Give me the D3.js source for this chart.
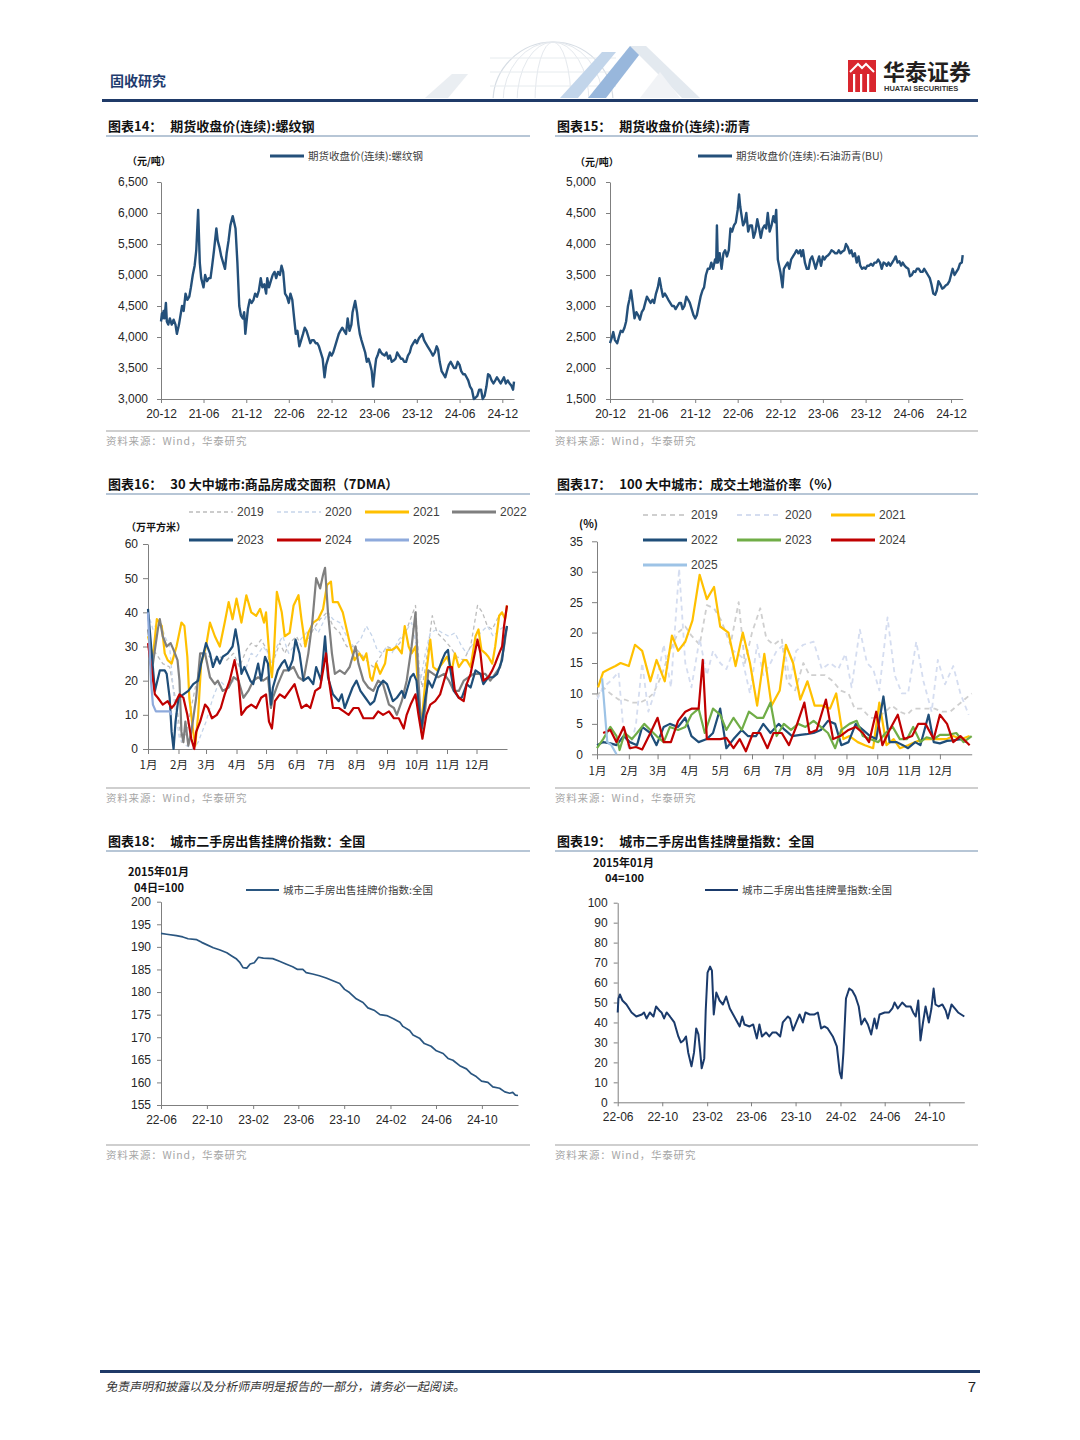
<!DOCTYPE html>
<html>
<head>
<meta charset="utf-8">
<script src="https://cdn.jsdelivr.net/npm/d3@7"></script>
<style>
  body { margin: 0; background: #fff; }
  svg { display: block; }
</style>
</head>
<body>
<script>
// ---------- data ----------

// 图表14 螺纹钢 (元/吨)
const rebar = [
  ["2020-12-01",4250],["2020-12-05",4380],["2020-12-08",4300],["2020-12-12",4420],["2020-12-16",4300],["2020-12-22",4550],
  ["2020-12-26",4250],["2021-01-01",4200],["2021-01-08",4300],["2021-01-16",4200],["2021-01-24",4280],["2021-02-01",4200],
  ["2021-02-07",4050],["2021-02-16",4200],["2021-03-01",4500],["2021-03-08",4420],["2021-03-16",4700],["2021-03-24",4600],
  ["2021-04-01",4650],["2021-04-08",4800],["2021-04-16",5000],["2021-04-24",5150],["2021-05-01",5400],["2021-05-09",6050],
  ["2021-05-16",5200],["2021-05-22",4950],["2021-06-01",4800],["2021-06-08",5000],["2021-06-16",4900],["2021-06-24",4950],
  ["2021-07-01",4950],["2021-07-08",5150],["2021-07-16",5400],["2021-07-26",5750],["2021-08-01",5550],["2021-08-08",5450],
  ["2021-08-16",5300],["2021-08-24",5200],["2021-09-01",5100],["2021-09-08",5350],["2021-09-16",5550],["2021-09-24",5800],
  ["2021-10-04",5950],["2021-10-10",5850],["2021-10-16",5750],["2021-10-24",5200],["2021-11-01",4500],["2021-11-08",4350],
  ["2021-11-16",4300],["2021-11-22",4400],["2021-11-27",4050],["2021-12-01",4200],["2021-12-08",4450],["2021-12-16",4600],
  ["2021-12-24",4550],["2022-01-01",4600],["2022-01-08",4700],["2022-01-16",4650],["2022-01-24",4750],["2022-02-01",4950],
  ["2022-02-08",4800],["2022-02-16",4850],["2022-02-24",4700],["2022-03-01",4950],["2022-03-08",4800],["2022-03-16",4900],
  ["2022-03-24",5000],["2022-04-01",5050],["2022-04-08",4950],["2022-04-16",5050],["2022-04-24",5000],["2022-05-01",5150],
  ["2022-05-08",5050],["2022-05-16",4700],["2022-05-24",4650],["2022-06-01",4550],["2022-06-08",4700],["2022-06-16",4600],
  ["2022-06-24",4300],["2022-07-01",4050],["2022-07-08",4100],["2022-07-16",3850],["2022-07-24",3950],["2022-08-01",4050],
  ["2022-08-08",4150],["2022-08-16",4100],["2022-08-24",4000],["2022-09-01",3900],["2022-09-08",3950],["2022-09-16",3950],
  ["2022-09-24",3900],["2022-10-01",3900],["2022-10-08",3850],["2022-10-16",3750],["2022-10-24",3650],["2022-11-01",3350],
  ["2022-11-08",3550],["2022-11-16",3650],["2022-11-24",3750],["2022-12-01",3700],["2022-12-08",3750],["2022-12-16",3850],
  ["2022-12-24",3950],["2023-01-01",4050],["2023-01-08",4100],["2023-01-16",4150],["2023-01-24",4100],["2023-02-01",4050],
  ["2023-02-08",4300],["2023-02-16",4100],["2023-02-24",4200],["2023-03-01",4400],["2023-03-12",4580],["2023-03-20",4400],
  ["2023-03-26",4200],["2023-04-01",4050],["2023-04-08",3950],["2023-04-16",3850],["2023-04-24",3750],["2023-05-01",3600],
  ["2023-05-08",3650],["2023-05-16",3550],["2023-05-22",3450],["2023-05-28",3200],["2023-06-05",3500],["2023-06-10",3650],
  ["2023-06-16",3700],["2023-06-24",3800],["2023-07-01",3750],["2023-07-08",3720],["2023-07-16",3700],["2023-07-24",3750],
  ["2023-08-01",3650],["2023-08-08",3700],["2023-08-16",3600],["2023-08-24",3620],["2023-09-01",3650],["2023-09-08",3750],
  ["2023-09-16",3700],["2023-09-24",3650],["2023-10-01",3650],["2023-10-08",3600],["2023-10-16",3600],["2023-10-24",3700],
  ["2023-11-01",3750],["2023-11-08",3850],["2023-11-16",3900],["2023-11-24",3950],["2023-12-01",3900],["2023-12-10",3980],
  ["2023-12-24",4050],["2024-01-01",3950],["2024-01-08",3900],["2024-01-16",3850],["2024-01-24",3800],["2024-02-01",3750],
  ["2024-02-08",3700],["2024-02-16",3750],["2024-02-24",3850],["2024-03-01",3800],["2024-03-08",3600],["2024-03-16",3450],
  ["2024-03-24",3400],["2024-04-01",3350],["2024-04-08",3450],["2024-04-16",3550],["2024-04-24",3600],["2024-05-01",3550],
  ["2024-05-08",3500],["2024-05-16",3500],["2024-05-24",3600],["2024-06-01",3550],["2024-06-08",3450],["2024-06-16",3400],
  ["2024-06-24",3400],["2024-07-01",3350],["2024-07-08",3300],["2024-07-16",3200],["2024-07-24",3150],["2024-08-01",3000],
  ["2024-08-08",3020],["2024-08-16",3050],["2024-08-24",3150],["2024-09-01",3150],["2024-09-08",3000],["2024-09-16",3050],
  ["2024-09-24",3200],["2024-10-01",3400],["2024-10-08",3380],["2024-10-16",3300],["2024-10-24",3250],["2024-11-01",3300],
  ["2024-11-08",3350],["2024-11-16",3300],["2024-11-24",3250],["2024-12-01",3300],["2024-12-08",3350],["2024-12-16",3250],
  ["2024-12-24",3300],["2025-01-01",3250],["2025-01-08",3220],["2025-01-16",3150],["2025-01-20",3280]
];

// 图表15 石油沥青 (元/吨)
const asphalt = [
  ["2020-12-01",2400],["2020-12-08",2480],["2020-12-15",2580],["2020-12-22",2450],["2021-01-01",2400],["2021-01-08",2500],
  ["2021-01-16",2600],["2021-01-24",2580],["2021-02-01",2650],["2021-02-08",2750],["2021-02-16",3000],["2021-02-22",3100],
  ["2021-03-01",3250],["2021-03-08",3050],["2021-03-16",2800],["2021-03-24",2900],["2021-04-01",2850],["2021-04-08",2780],
  ["2021-04-16",2900],["2021-04-24",2950],["2021-05-01",3050],["2021-05-08",3150],["2021-05-16",3100],["2021-05-24",3050],
  ["2021-06-01",3100],["2021-06-08",3050],["2021-06-16",3200],["2021-06-24",3300],["2021-07-01",3450],["2021-07-08",3300],
  ["2021-07-16",3150],["2021-07-24",3200],["2021-08-01",3150],["2021-08-08",3100],["2021-08-16",3050],["2021-08-24",3000],
  ["2021-09-01",3000],["2021-09-08",2950],["2021-09-16",3000],["2021-09-24",3050],["2021-10-01",3050],["2021-10-08",2950],
  ["2021-10-16",3000],["2021-10-24",3150],["2021-11-01",3100],["2021-11-08",3050],["2021-11-16",2950],["2021-11-24",2850],
  ["2021-12-01",2800],["2021-12-08",2850],["2021-12-16",3000],["2021-12-24",3150],["2022-01-01",3250],["2022-01-08",3300],
  ["2022-01-16",3500],["2022-01-24",3600],["2022-02-01",3600],["2022-02-08",3700],["2022-02-16",3600],["2022-02-24",3750],
  ["2022-03-01",3700],["2022-03-04",4300],["2022-03-08",3700],["2022-03-16",3850],["2022-03-24",3600],["2022-04-01",3850],
  ["2022-04-08",3900],["2022-04-16",3800],["2022-04-24",3900],["2022-05-01",4250],["2022-05-08",4200],["2022-05-16",4300],
  ["2022-05-24",4350],["2022-06-01",4550],["2022-06-07",4800],["2022-06-12",4600],["2022-06-16",4500],["2022-06-24",4300],
  ["2022-07-01",4350],["2022-07-08",4500],["2022-07-16",4200],["2022-07-24",4300],["2022-08-01",4300],["2022-08-08",4100],
  ["2022-08-16",4200],["2022-08-24",4400],["2022-09-01",4250],["2022-09-08",4100],["2022-09-16",4250],["2022-09-24",4300],
  ["2022-10-01",4250],["2022-10-08",4500],["2022-10-16",4200],["2022-10-24",4300],["2022-11-01",4450],["2022-11-08",4350],
  ["2022-11-13",4550],["2022-11-20",3750],["2022-12-01",3550],["2022-12-10",3300],["2022-12-16",3600],["2022-12-24",3650],
  ["2023-01-01",3700],["2023-01-08",3600],["2023-01-16",3750],["2023-01-24",3800],["2023-02-01",3850],["2023-02-08",3900],
  ["2023-02-16",3850],["2023-02-24",3900],["2023-03-01",3800],["2023-03-08",3900],["2023-03-16",3700],["2023-03-24",3600],
  ["2023-04-01",3600],["2023-04-08",3750],["2023-04-16",3800],["2023-04-24",3700],["2023-05-01",3600],["2023-05-08",3700],
  ["2023-05-16",3800],["2023-05-24",3650],["2023-06-01",3800],["2023-06-08",3750],["2023-06-16",3800],["2023-06-24",3820],
  ["2023-07-01",3850],["2023-07-08",3900],["2023-07-16",3880],["2023-07-24",3850],["2023-08-01",3850],["2023-08-08",3900],
  ["2023-08-16",3850],["2023-08-24",3880],["2023-09-01",3900],["2023-09-08",4000],["2023-09-16",3950],["2023-09-24",3850],
  ["2023-10-01",3900],["2023-10-08",3800],["2023-10-16",3850],["2023-10-24",3700],["2023-11-01",3800],["2023-11-08",3650],
  ["2023-11-16",3600],["2023-11-24",3620],["2023-12-01",3600],["2023-12-08",3650],["2023-12-16",3650],["2023-12-24",3680],
  ["2024-01-01",3650],["2024-01-08",3700],["2024-01-16",3700],["2024-01-24",3750],["2024-02-01",3700],["2024-02-08",3600],
  ["2024-02-16",3700],["2024-02-24",3680],["2024-03-01",3650],["2024-03-08",3700],["2024-03-16",3650],["2024-03-24",3700],
  ["2024-04-01",3750],["2024-04-08",3800],["2024-04-16",3700],["2024-04-24",3720],["2024-05-01",3650],["2024-05-08",3700],
  ["2024-05-16",3650],["2024-05-24",3620],["2024-06-01",3600],["2024-06-08",3480],["2024-06-16",3500],["2024-06-24",3560],
  ["2024-07-01",3550],["2024-07-08",3600],["2024-07-16",3600],["2024-07-24",3550],["2024-08-01",3550],["2024-08-08",3600],
  ["2024-08-16",3550],["2024-08-24",3500],["2024-09-01",3450],["2024-09-08",3350],["2024-09-16",3200],["2024-09-24",3180],
  ["2024-10-01",3250],["2024-10-08",3400],["2024-10-16",3350],["2024-10-24",3280],["2024-11-01",3300],["2024-11-08",3330],
  ["2024-11-16",3350],["2024-11-24",3400],["2024-12-01",3500],["2024-12-08",3600],["2024-12-16",3500],["2024-12-24",3550],
  ["2025-01-01",3600],["2025-01-08",3680],["2025-01-16",3700],["2025-01-20",3820]
];

const futuresTicks = ["2020-12-01","2021-06-01","2021-12-01","2022-06-01","2022-12-01","2023-06-01","2023-12-01","2024-06-01","2024-12-01"];

// month axis (day of year)
const monthLabels = ["1月","2月","3月","4月","5月","6月","7月","8月","9月","10月","11月","12月"];
const monthStartDays = [0,31,59,90,120,151,181,212,243,273,304,334];

// 图表16 30大中城市商品房成交面积 7DMA (万平方米), [day of year, value]
const area2019 = [[0,30],[8,28],[15,25],[22,24],[29,13],[34,2],[39,5],[46,15],[53,25],[59,28],[66,26],[73,27],[80,26],[87,28],[93,24],[100,29],[105,31],[110,30],[115,32],[121,29],[125,23],[129,27],[134,31],[139,28],[144,31],[151,33],[156,30],[163,32],[168,35],[175,38],[182,40],[188,36],[195,34],[202,30],[209,30],[216,28],[222,26],[229,24],[236,27],[243,30],[250,29],[256,31],[263,35],[272,42],[276,22],[279,18],[285,30],[289,39],[294,34],[301,32],[307,30],[314,27],[321,26],[328,30],[335,42],[340,40],[345,36],[350,35],[355,38],[360,40],[365,40]];
const area2020 = [[0,40],[5,35],[12,38],[17,33],[22,30],[27,13],[32,3],[39,1],[46,0],[51,2],[59,8],[66,15],[73,20],[80,18],[87,20],[93,22],[100,24],[105,28],[110,27],[117,30],[122,28],[126,25],[131,30],[137,33],[143,28],[148,30],[155,32],[161,34],[168,36],[173,34],[178,37],[183,40],[188,38],[195,37],[202,33],[209,30],[216,32],[222,36],[228,33],[233,29],[238,28],[243,30],[248,28],[255,32],[261,34],[268,37],[273,30],[277,20],[282,28],[287,34],[294,35],[299,34],[306,33],[312,34],[319,30],[324,28],[331,31],[338,34],[345,36],[351,33],[358,35],[363,36]];
const area2021 = [[0,33],[5,27],[9,38],[14,36],[17,28],[20,26],[24,25],[29,30],[34,37],[37,36],[40,27],[42,15],[46,5],[48,1],[51,10],[54,25],[59,30],[63,37],[68,33],[73,30],[78,37],[82,43],[86,38],[90,44],[95,37],[100,45],[105,40],[110,39],[114,41],[118,37],[120,40],[124,25],[126,21],[128,28],[131,46],[136,40],[139,33],[144,34],[148,42],[153,45],[156,38],[160,30],[163,34],[168,37],[173,38],[178,41],[182,48],[186,49],[188,43],[193,43],[198,40],[202,35],[206,30],[210,26],[215,28],[219,26],[222,28],[226,21],[228,20],[232,25],[236,22],[241,25],[243,29],[248,29],[253,30],[258,28],[261,36],[265,30],[268,28],[272,30],[275,15],[278,7],[282,20],[287,32],[290,24],[294,23],[299,25],[304,27],[309,23],[312,28],[316,24],[321,26],[324,26],[328,24],[333,33],[336,35],[339,29],[343,28],[346,27],[350,25],[353,30],[357,39],[360,40],[363,38],[365,42]];
const area2022 = [[0,35],[5,25],[10,35],[12,38],[15,33],[19,30],[23,31],[26,29],[30,26],[32,20],[34,5],[36,2],[38,8],[41,1],[44,5],[49,15],[53,28],[58,28],[63,21],[68,19],[71,20],[76,17],[82,18],[87,21],[92,20],[97,15],[102,17],[107,20],[112,21],[117,20],[122,21],[125,12],[127,15],[132,19],[138,23],[143,23],[148,24],[153,21],[158,20],[163,28],[167,37],[171,50],[175,47],[178,51],[180,53],[183,40],[187,28],[190,22],[195,23],[200,22],[205,24],[211,30],[214,25],[219,20],[224,18],[229,17],[234,20],[239,19],[245,13],[250,12],[253,10],[258,14],[263,20],[268,30],[272,40],[275,20],[278,5],[282,12],[285,23],[290,22],[295,21],[301,22],[306,20],[311,17],[316,17],[321,20],[326,21],[331,22],[338,22],[343,22],[348,20],[353,22],[358,24],[362,30],[365,36]];
const area2023 = [[0,41],[7,17],[12,23],[17,23],[19,22],[22,15],[24,5],[26,0],[28,8],[31,15],[36,16],[41,17],[46,19],[51,20],[54,25],[59,31],[63,28],[66,24],[70,27],[73,25],[76,27],[81,28],[86,30],[89,35],[92,30],[95,22],[98,24],[104,20],[107,19],[112,25],[115,20],[119,27],[122,25],[125,13],[127,18],[132,23],[136,25],[139,26],[143,23],[147,26],[150,32],[154,28],[158,20],[163,21],[168,19],[171,24],[176,20],[180,33],[183,21],[188,16],[194,14],[197,16],[200,12],[204,15],[208,18],[212,20],[216,17],[221,15],[226,13],[230,14],[234,18],[239,20],[243,19],[249,14],[253,15],[258,17],[261,15],[267,21],[270,22],[273,20],[276,10],[278,6],[282,15],[285,20],[289,18],[294,22],[299,26],[302,28],[305,29],[307,24],[311,17],[316,15],[319,15],[324,19],[328,18],[333,23],[338,22],[341,19],[346,21],[351,21],[355,22],[360,26],[363,33],[365,36]];
const area2024 = [[0,31],[7,16],[10,15],[15,13],[20,14],[24,12],[27,13],[32,16],[36,15],[40,10],[44,3],[47,0],[49,5],[53,8],[58,13],[61,12],[65,9],[70,10],[74,12],[78,16],[83,20],[88,26],[92,20],[95,10],[100,12],[105,13],[110,12],[115,15],[120,16],[123,8],[126,6],[129,14],[134,16],[139,15],[144,17],[149,19],[153,15],[156,12],[161,13],[165,12],[170,17],[175,18],[181,28],[184,20],[188,12],[194,12],[199,11],[204,10],[209,12],[214,12],[219,9],[224,9],[229,9],[234,11],[239,10],[245,11],[250,9],[255,9],[260,6],[263,10],[267,13],[272,16],[275,10],[279,3],[283,10],[287,13],[292,14],[297,16],[301,20],[305,24],[309,24],[312,17],[316,15],[321,14],[324,19],[328,22],[335,32],[338,28],[341,20],[346,21],[350,23],[353,25],[357,28],[360,30],[362,36],[365,42]];
const area2025 = [[0,40],[3,20],[5,13],[8,11],[14,11],[19,11],[22,11],[24,10]];

// 图表17 100大中城市成交土地溢价率 (%), [day of year, value]
const prem2019 = [[0,9.5],[6,11],[13,10],[21,9],[27,9],[35,8.5],[42,8.5],[48,9],[55,10],[63,13],[71,17],[79,20],[86,21],[92,19.5],[100,18],[107,24.5],[114,24],[121,22],[130,18],[138,25],[144,15],[151,20],[159,24],[165,19],[172,18],[180,19],[185,12],[193,10.5],[201,15],[207,13],[214,13],[222,13],[230,12],[237,10.5],[245,10],[251,7.5],[258,7.5],[266,6],[272,6],[281,7],[287,8],[295,7],[302,6.5],[308,7.5],[315,7.5],[323,7.5],[329,7.5],[336,7],[344,7],[351,8],[358,9],[365,10]];
const prem2020 = [[0,9],[6,11],[13,12],[21,13.5],[26,3.5],[32,0.5],[38,5],[44,15],[50,7],[56,10],[65,18],[72,11],[80,30.5],[86,15],[92,11],[100,19],[107,13],[113,17],[120,15],[126,14],[133,17],[141,16],[149,10],[156,18],[162,13],[169,15],[175,17],[182,18],[188,12],[194,17],[201,18],[211,18.5],[219,14],[227,15],[235,14],[242,16.5],[248,11],[256,20.5],[263,15],[269,14],[275,10.5],[283,22.5],[290,13],[297,10],[303,10],[311,18.5],[318,12],[326,7],[332,15.5],[339,11.5],[347,14.5],[354,10],[362,6.5]];
const prem2021 = [[1,11],[6,13.5],[12,14],[18,14.5],[23,15],[31,14.5],[37,18],[44,17],[52,12],[58,15.5],[66,12],[73,19.5],[79,17],[86,18.5],[93,22],[100,29.5],[107,25.5],[114,27.5],[120,21],[128,20],[135,14.5],[142,20],[149,15],[156,8],[163,16.5],[170,8],[178,10.5],[184,18],[191,15],[198,9],[205,12],[212,8],[219,8],[227,7.5],[233,10],[240,2.5],[246,3],[254,2],[261,1.5],[269,1],[275,8.5],[282,1.5],[289,2.5],[295,1],[303,1.5],[310,2],[318,2.5],[324,2.5],[332,2.5],[341,2.5],[347,3],[355,2.5],[363,3]];
const prem2022 = [[0,1.5],[6,2],[13,1.8],[19,1.5],[26,3],[32,2],[39,1.5],[44,4.5],[52,3.5],[58,1.5],[65,4.5],[71,5],[79,4.5],[86,6],[92,3],[99,2],[107,2.5],[113,3.5],[120,7.5],[126,1],[133,2.5],[141,4],[147,3],[155,3],[162,5],[169,3.5],[177,5],[183,4],[190,3],[198,3.2],[204,3.3],[211,3.5],[218,4],[225,5.5],[232,5],[238,1.5],[245,2],[252,5],[259,4],[266,3],[272,2.5],[279,9.5],[285,2],[292,2],[298,1.5],[303,1],[310,2],[315,1.5],[323,6.5],[328,2],[334,1.8],[341,2.2],[347,2.3],[354,2.5],[360,2]];
const prem2023 = [[0,1],[6,2.5],[13,4.5],[19,3],[22,0.7],[27,3.5],[34,2.5],[39,3.5],[46,5],[52,4],[58,3],[65,2],[71,4.5],[79,4],[86,4.5],[92,6.5],[99,7.5],[105,3.5],[113,7.5],[120,6.5],[126,4],[133,6],[141,4],[148,7],[156,6],[162,6],[169,8.5],[175,3],[182,5],[189,4],[196,5],[203,4.5],[211,5.5],[218,4.5],[225,3.5],[232,1],[238,4],[246,5],[253,5.5],[259,3],[266,2.5],[274,2],[281,3.5],[288,4.5],[295,2.5],[302,2.5],[308,4.5],[315,2],[321,2.8],[328,2.5],[334,3.2],[342,3.2],[350,3.5],[357,2],[365,3]];
const prem2024 = [[6,3.5],[13,4],[19,2],[26,4.5],[32,1],[38,1.2],[44,0.8],[52,3.5],[59,6],[65,2],[72,2],[79,5.5],[86,7],[92,7.5],[99,7.5],[103,15.5],[107,2.5],[113,2.5],[120,2.5],[126,2.7],[133,1],[139,2.5],[145,0.5],[152,3.5],[159,3.5],[166,1],[172,3.5],[180,3.5],[187,1.5],[194,4.5],[202,8.5],[207,3.5],[214,4],[223,9],[230,2.5],[237,3],[245,4],[252,4.5],[259,3.5],[265,2],[272,7],[278,1.5],[285,4],[293,6.5],[299,2.5],[307,3],[313,5],[320,5],[328,2.5],[334,6.5],[341,5],[347,2],[354,3],[363,1.5]];
const prem2025 = [[5,12.5],[10,2],[14,1.5],[19,0]];

// 图表18 二手房出售挂牌价指数
const listPrice = [
  ["2022-06-01",193.0],["2022-06-16",192.8],["2022-07-12",192.5],["2022-07-29",192.2],["2022-08-12",191.8],["2022-09-04",191.6],
  ["2022-09-17",191.0],["2022-09-30",190.5],["2022-10-18",189.8],["2022-11-05",189.3],["2022-11-23",188.7],["2022-12-06",188.0],
  ["2022-12-19",187.3],["2022-12-28",186.5],["2023-01-05",185.4],["2023-01-15",185.3],["2023-01-24",186.2],["2023-02-04",186.5],
  ["2023-02-15",187.7],["2023-02-28",187.5],["2023-03-25",187.4],["2023-04-12",186.8],["2023-04-29",186.2],["2023-05-17",185.6],
  ["2023-05-30",185.0],["2023-06-13",185.0],["2023-06-22",184.3],["2023-07-09",184.0],["2023-07-27",183.6],["2023-08-14",183.1],
  ["2023-09-01",182.5],["2023-09-19",181.9],["2023-10-02",180.6],["2023-10-15",179.9],["2023-11-02",178.5],["2023-11-20",177.7],
  ["2023-12-03",176.5],["2023-12-21",175.9],["2024-01-04",175.0],["2024-01-22",174.8],["2024-02-09",174.1],["2024-02-26",173.3],
  ["2024-03-05",172.4],["2024-03-23",171.5],["2024-04-01",170.5],["2024-04-18",169.8],["2024-05-01",168.6],["2024-05-19",168.0],
  ["2024-06-02",167.0],["2024-06-20",166.4],["2024-07-03",165.3],["2024-07-16",164.9],["2024-08-03",163.7],["2024-08-21",163.0],
  ["2024-09-03",161.9],["2024-09-16",161.3],["2024-09-30",160.3],["2024-10-17",160.0],["2024-10-30",159.0],["2024-11-17",158.7],
  ["2024-12-01",157.9],["2024-12-14",157.6],["2024-12-22",157.8],["2024-12-29",157.2],["2025-01-05",157.1]
];

// 图表19 二手房出售挂牌量指数
const listVolume = [
  ["2022-06-01",45],["2022-06-03",52],["2022-06-07",54],["2022-06-14",51],["2022-06-25",49],["2022-07-09",45],["2022-07-22",43],
  ["2022-08-06",44],["2022-08-12",45],["2022-08-19",42],["2022-08-28",45],["2022-09-07",43],["2022-09-14",48],["2022-09-23",46],
  ["2022-09-29",45],["2022-10-06",42],["2022-10-13",45],["2022-10-22",43],["2022-11-03",40],["2022-11-14",33],["2022-11-21",30],
  ["2022-11-28",31],["2022-12-05",33],["2022-12-11",25],["2022-12-20",18],["2022-12-27",25],["2023-01-02",37],["2023-01-08",34],
  ["2023-01-13",25],["2023-01-17",17],["2023-01-24",22],["2023-01-28",46],["2023-02-02",65],["2023-02-09",68],["2023-02-14",66],
  ["2023-02-19",44],["2023-02-26",55],["2023-03-07",51],["2023-03-16",49],["2023-03-25",53],["2023-04-04",47],["2023-04-13",44],
  ["2023-04-22",41],["2023-05-01",38],["2023-05-08",43],["2023-05-14",39],["2023-05-28",38],["2023-06-07",39],["2023-06-17",32],
  ["2023-06-24",39],["2023-07-01",33],["2023-07-12",35],["2023-07-21",33],["2023-07-30",35],["2023-08-09",35],["2023-08-20",33],
  ["2023-08-27",40],["2023-09-10",43],["2023-09-16",42],["2023-09-24",36],["2023-10-03",40],["2023-10-12",44],["2023-10-21",40],
  ["2023-10-28",45],["2023-11-09",44],["2023-11-22",44],["2023-12-01",45],["2023-12-10",37],["2023-12-19",38],["2023-12-28",37],
  ["2024-01-11",33],["2024-01-22",28],["2024-01-30",15],["2024-02-04",12],["2024-02-09",25],["2024-02-16",52],["2024-02-25",57],
  ["2024-03-04",56],["2024-03-13",53],["2024-03-22",48],["2024-03-29",39],["2024-04-07",42],["2024-04-16",39],["2024-04-25",34],
  ["2024-05-04",42],["2024-05-10",37],["2024-05-18",44],["2024-06-01",45],["2024-06-13",45],["2024-06-22",47],["2024-06-28",50],
  ["2024-07-07",47],["2024-07-19",50],["2024-07-30",48],["2024-08-11",48],["2024-08-18",45],["2024-08-25",43],["2024-09-01",51],
  ["2024-09-07",31],["2024-09-14",40],["2024-09-21",48],["2024-09-30",40],["2024-10-07",47],["2024-10-13",57],["2024-10-18",49],
  ["2024-10-27",48],["2024-11-06",49],["2024-11-15",46],["2024-11-21",42],["2024-12-01",49],["2024-12-10",47],["2024-12-19",45],
  ["2025-01-05",43]
];

const listingTicks = ["2022-06-01","2022-10-01","2023-02-01","2023-06-01","2023-10-01","2024-02-01","2024-06-01","2024-10-01"];

// ---------- drawing ----------

const cn = '"Noto Sans CJK SC", sans-serif';
const num = '"Liberation Sans", Arial, sans-serif';
const parse = d3.timeParse("%Y-%m-%d");
const navy = "#24507a";

const svg = d3.select("body").append("svg")
    .attr("width", 1080)
    .attr("height", 1440)
    .style("background", "#fff");

// header decoration (globe + stripes), clipped above the rule
svg.append("clipPath").attr("id", "headClip")
    .append("rect").attr("x", 400).attr("y", 20).attr("width", 320).attr("height", 78);
const deco = svg.append("g").attr("clip-path", "url(#headClip)").attr("opacity", 0.8);
deco.append("polygon").attr("points", "425,98 452,74 468,74 448,98").attr("fill", "#e6eaef");
deco.append("circle").attr("cx", 553).attr("cy", 102).attr("r", 60)
    .attr("fill", "none").attr("stroke", "#cdd5de").attr("stroke-width", 1.2);
[18, 36, 50].forEach(rx => deco.append("ellipse").attr("cx", 553).attr("cy", 102)
    .attr("rx", rx).attr("ry", 60).attr("fill", "none").attr("stroke", "#dfe4ea"));
[58, 72, 86].forEach(yy => deco.append("line").attr("x1", 490).attr("x2", 616).attr("y1", yy).attr("y2", yy)
    .attr("stroke", "#e2e7ec"));
deco.append("polygon").attr("points", "560,98 602,52 616,52 578,98").attr("fill", "#b4cbe6");
deco.append("polygon").attr("points", "588,98 630,46 646,46 606,98").attr("fill", "#7fa6d4");
deco.append("polygon").attr("points", "630,46 646,46 700,98 682,98").attr("fill", "#dde4ec");
deco.append("polygon").attr("points", "640,98 660,72 680,98").attr("fill", "#eef1f5");

svg.append("text").attr("x", 110).attr("y", 86)
    .attr("font-family", cn).attr("font-weight", 700).attr("font-size", 14)
    .attr("fill", "#1f3c6e").text("固收研究");

svg.append("rect").attr("x", 848).attr("y", 60).attr("width", 28).attr("height", 32).attr("fill", "#d9262e");
[853, 860, 867].forEach(xx => svg.append("rect").attr("x", xx).attr("y", 74).attr("width", 2.2).attr("height", 18).attr("fill", "#fff"));
svg.append("path").attr("d", "M850,72 L858,64 L862,68 L866,64 L874,72").attr("fill", "none")
    .attr("stroke", "#fff").attr("stroke-width", 2);
svg.append("text").attr("x", 883).attr("y", 80)
    .attr("font-family", cn).attr("font-weight", 700).attr("font-size", 22)
    .attr("fill", "#231f20").text("华泰证券");
svg.append("text").attr("x", 884).attr("y", 91)
    .attr("font-family", num).attr("font-weight", 700).attr("font-size", 7.5)
    .attr("fill", "#333").text("HUATAI SECURITIES");
svg.append("rect").attr("x", 102).attr("y", 99).attr("width", 876).attr("height", 3).attr("fill", "#1f3a68");

// footer
svg.append("rect").attr("x", 100).attr("y", 1370).attr("width", 880).attr("height", 3).attr("fill", "#1f3a68");
svg.append("text").attr("x", 106).attr("y", 1391)
    .attr("font-family", cn).attr("font-size", 12).attr("fill", "#333")
    .attr("transform", "skewX(-12) translate(295,0)")
    .text("免责声明和披露以及分析师声明是报告的一部分，请务必一起阅读。");
svg.append("text").attr("x", 976).attr("y", 1392).attr("text-anchor", "end")
    .attr("font-family", num).attr("font-size", 15).attr("fill", "#222").text("7");

// panel frame: title, rule under title, rule + source at bottom
function frame(x0, x1, titleY, num1, title, sourceY) {
    const t = svg.append("text").attr("x", x0 + 2).attr("y", titleY)
        .attr("font-family", cn).attr("font-weight", 700).attr("font-size", 13).attr("fill", "#111");
    t.append("tspan").text("图表" + num1 + "：");
    t.append("tspan").attr("dx", 8).text(title);
    svg.append("line").attr("x1", x0).attr("x2", x1).attr("y1", titleY + 5).attr("y2", titleY + 5)
        .attr("stroke", "#9fb3c8").attr("stroke-width", 1.3);
    svg.append("line").attr("x1", x0).attr("x2", x1).attr("y1", sourceY).attr("y2", sourceY)
        .attr("stroke", "#bfbfbf").attr("stroke-width", 1.6);
    svg.append("text").attr("x", x0).attr("y", sourceY + 14)
        .attr("font-family", cn).attr("font-size", 10.5).attr("letter-spacing", 0.8)
        .attr("fill", "#a6a6a6").text("资料来源：Wind，华泰研究");
}

function styleAxis(g) {
    g.select(".domain").attr("stroke", "#7f7f7f").attr("stroke-width", 1);
    g.selectAll(".tick line").attr("stroke", "#7f7f7f");
    g.selectAll(".tick text").attr("font-family", num).attr("font-size", 12).attr("fill", "#262626");
}

function legendItem(x, y, len, color, dash, width, label, font, size) {
    svg.append("line").attr("x1", x).attr("x2", x + len).attr("y1", y).attr("y2", y)
        .attr("stroke", color).attr("stroke-width", width).attr("stroke-dasharray", dash || null);
    svg.append("text").attr("x", x + len + 4).attr("y", y + size * 0.36)
        .attr("font-family", font).attr("font-size", size).attr("fill", "#404040").text(label);
}

function unitText(x, y, txt, size) {
    svg.append("text").attr("x", x).attr("y", y)
        .attr("font-family", cn).attr("font-weight", 700).attr("font-size", size || 10)
        .attr("fill", "#111").text(txt);
}

// ---- 图表14 / 图表15 ----
function futuresChart(opt) {
    const x = d3.scaleTime()
        .domain([parse("2020-12-01"), parse("2025-01-20")])
        .range([opt.left, opt.right]);
    const y = d3.scaleLinear().domain(opt.yDomain).range([399, 182]);

    const gx = svg.append("g").attr("transform", "translate(0,399)")
        .call(d3.axisBottom(x).tickValues(futuresTicks.map(parse))
            .tickFormat(d3.timeFormat("%y-%m")).tickSize(4).tickSizeOuter(0).tickPadding(6));
    styleAxis(gx);
    const gy = svg.append("g").attr("transform", `translate(${opt.left},0)`)
        .call(d3.axisLeft(y).tickValues(d3.range(opt.yDomain[0], opt.yDomain[1] + 1, 500))
            .tickFormat(d3.format(",")).tickSize(4).tickSizeOuter(0).tickPadding(opt.pad));
    styleAxis(gy);

    svg.append("path").datum(opt.data)
        .attr("fill", "none").attr("stroke", navy).attr("stroke-width", 2.4)
        .attr("stroke-linejoin", "round")
        .attr("d", d3.line().x(d => x(parse(d[0]))).y(d => y(d[1])));
}

frame(106, 530, 131, "14", "期货收盘价(连续):螺纹钢", 431);
unitText(127, 165, "（元/吨）");
legendItem(270, 156, 34, navy, null, 3, "期货收盘价(连续):螺纹钢", cn, 10.5);
futuresChart({ left: 161, right: 514, yDomain: [3000, 6500], data: rebar, pad: 9 });

frame(555, 978, 131, "15", "期货收盘价(连续):沥青", 431);
unitText(575, 166, "（元/吨）");
legendItem(698, 156, 34, navy, null, 3, "期货收盘价(连续):石油沥青(BU)", cn, 10.5);
futuresChart({ left: 610, right: 962.7, yDomain: [1500, 5000], data: asphalt, pad: 10 });

// ---- 图表16 / 图表17: one line per year on a day-of-year axis ----
function yearChart(opt) {
    const x = d3.scaleLinear().domain([0, 365]).range([opt.left, opt.right]);
    const y = d3.scaleLinear().domain([0, opt.yMax]).range([opt.bottom, opt.top]);

    const gx = svg.append("g").attr("transform", `translate(0,${opt.bottom})`)
        .call(d3.axisBottom(x).tickValues(monthStartDays)
            .tickFormat((d, i) => monthLabels[i]).tickSize(5).tickSizeOuter(0).tickPadding(opt.xpad));
    styleAxis(gx);
    gx.selectAll(".tick text").attr("font-family", cn).attr("font-size", 11.5);
    const gy = svg.append("g").attr("transform", `translate(${opt.left},0)`)
        .call(d3.axisLeft(y).tickValues(d3.range(0, opt.yMax + 1, opt.step))
            .tickSize(5).tickSizeOuter(0).tickPadding(opt.pad));
    styleAxis(gy);

    const line = d3.line().x(d => x(d[0])).y(d => y(d[1]));
    opt.series.forEach(s => {
        svg.append("path").datum(s.data)
            .attr("fill", "none").attr("stroke", s.color).attr("stroke-width", s.width)
            .attr("stroke-dasharray", s.dash || null).attr("stroke-linejoin", "round")
            .attr("d", line);
    });
}

frame(106, 530, 489, "16", "30 大中城市:商品房成交面积（7DMA）", 788);
unitText(126, 531, "（万平方米）");
const areaSeries = [
    { name: "2019", data: area2019, color: "#bcbcbc", dash: "4,3", width: 1.3 },
    { name: "2020", data: area2020, color: "#c6d5ea", dash: "4,3", width: 1.3 },
    { name: "2021", data: area2021, color: "#ffc000", width: 2.2 },
    { name: "2022", data: area2022, color: "#7f7f7f", width: 2.2 },
    { name: "2023", data: area2023, color: "#1f4e79", width: 2.2 },
    { name: "2024", data: area2024, color: "#c00000", width: 2.2 },
    { name: "2025", data: area2025, color: "#8eaadc", width: 2.2 }
];
const areaLegendPos = [[189, 512], [277, 512], [365, 512], [452, 512], [189, 540], [277, 540], [365, 540]];
areaSeries.forEach((s, i) => legendItem(areaLegendPos[i][0], areaLegendPos[i][1], 44, s.color, s.dash, s.dash ? 1.3 : 2.8, s.name, num, 12));
yearChart({ left: 148, right: 507, top: 544, bottom: 749, yMax: 60, step: 10, pad: 5, xpad: 7, series: areaSeries });

frame(555, 978, 489, "17", "100 大中城市：成交土地溢价率（%）", 788);
unitText(579, 528, "(%)", 11);
const premSeries = [
    { name: "2019", data: prem2019, color: "#cfcfcf", dash: "5,4", width: 1.8 },
    { name: "2020", data: prem2020, color: "#d5ddf0", dash: "5,4", width: 1.8 },
    { name: "2021", data: prem2021, color: "#ffc000", width: 2.2 },
    { name: "2022", data: prem2022, color: "#1f4e79", width: 2.2 },
    { name: "2023", data: prem2023, color: "#70ad47", width: 2.2 },
    { name: "2024", data: prem2024, color: "#c00000", width: 2.2 },
    { name: "2025", data: prem2025, color: "#9dc3e6", width: 2.2 }
];
const premLegendPos = [[643, 515], [737, 515], [831, 515], [643, 540], [737, 540], [831, 540], [643, 565]];
premSeries.forEach((s, i) => legendItem(premLegendPos[i][0], premLegendPos[i][1], 44, s.color, s.dash, s.dash ? 2 : 2.8, s.name, num, 12));
yearChart({ left: 597, right: 971.7, top: 541.3, bottom: 754.3, yMax: 35, step: 5, pad: 9, xpad: 8, series: premSeries });

// ---- 图表18 / 图表19 ----
function listingChart(opt) {
    const x = d3.scaleTime()
        .domain([parse("2022-06-01"), parse("2025-01-05")])
        .range([opt.left, opt.right]);
    const y = d3.scaleLinear().domain(opt.yDomain).range([opt.bottom, opt.top]);

    const gx = svg.append("g").attr("transform", `translate(0,${opt.bottom})`)
        .call(d3.axisBottom(x).tickValues(listingTicks.map(parse))
            .tickFormat(d3.timeFormat("%y-%m")).tickSize(4).tickSizeOuter(0).tickPadding(6));
    styleAxis(gx);
    const gy = svg.append("g").attr("transform", `translate(${opt.left},0)`)
        .call(d3.axisLeft(y).tickValues(d3.range(opt.yDomain[0], opt.yDomain[1] + 1, opt.step))
            .tickSize(4).tickSizeOuter(0).tickPadding(6));
    styleAxis(gy);

    svg.append("path").datum(opt.data)
        .attr("fill", "none").attr("stroke", opt.color).attr("stroke-width", opt.width)
        .attr("stroke-linejoin", "round")
        .attr("d", d3.line().x(d => x(parse(d[0]))).y(d => y(d[1])));
}

frame(106, 530, 846, "18", "城市二手房出售挂牌价指数：全国", 1145);
unitText(128, 876, "2015年01月", 11);
unitText(134, 892, "04日=100", 11);
legendItem(246, 890, 33, "#2a5680", null, 2, "城市二手房出售挂牌价指数:全国", cn, 10.5);
listingChart({ left: 161, right: 518, top: 901.7, bottom: 1105, yDomain: [155, 200], step: 5,
    data: listPrice, color: "#2a5680", width: 1.7 });

frame(555, 978, 846, "19", "城市二手房出售挂牌量指数：全国", 1145);
unitText(593, 867, "2015年01月", 11);
unitText(605, 882, "04=100", 11);
legendItem(705, 890, 33, "#1a3a6b", null, 2.2, "城市二手房出售挂牌量指数:全国", cn, 10.5);
listingChart({ left: 617.7, right: 964.3, top: 902.7, bottom: 1102.3, yDomain: [0, 100], step: 10,
    data: listVolume, color: "#1a3a6b", width: 2 });
</script>
</body>
</html>
